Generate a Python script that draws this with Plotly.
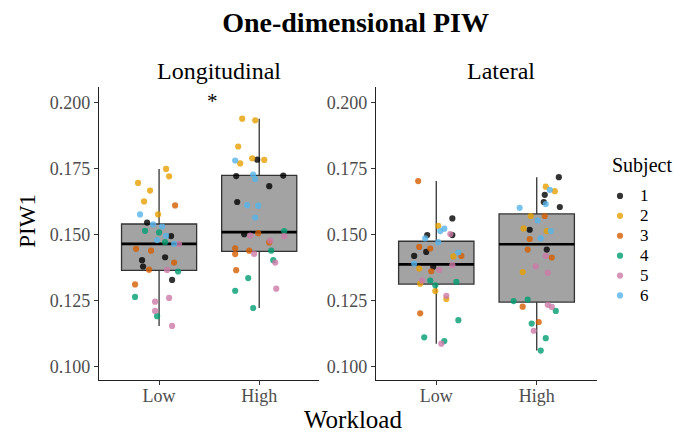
import numpy as np
import plotly.graph_objects as go

# ---------------- data ----------------
subjects = ["1", "2", "3", "4", "5", "6"]
colors = ["#000000", "#E69F00", "#D55E00", "#009E73", "#CC79A7", "#56B4E9"]
conditions = ["Low", "High"]
panels = ["Longitudinal", "Lateral"]

# values per subject (6 trials each), order subject 1..6
long_low = {
    "1": [0.1545, 0.1494, 0.1414, 0.1403, 0.1379, 0.1328],
    "2": [0.1748, 0.1720, 0.1695, 0.1666, 0.1625, 0.1576],
    "3": [0.1610, 0.1446, 0.1439, 0.1394, 0.1367, 0.1311],
    "4": [0.1514, 0.1508, 0.1471, 0.1360, 0.1264, 0.1191],
    "5": [0.1464, 0.1366, 0.1260, 0.1246, 0.1211, 0.1154],
    "6": [0.1576, 0.1538, 0.1530, 0.1495, 0.1479, 0.1465],
}
long_high = {
    "1": [0.1783, 0.1721, 0.1723, 0.1683, 0.1623, 0.1501],
    "2": [0.1938, 0.1932, 0.1833, 0.1788, 0.1782, 0.1769],
    "3": [0.1505, 0.1470, 0.1448, 0.1439, 0.1426, 0.1365],
    "4": [0.1513, 0.1439, 0.1403, 0.1335, 0.1287, 0.1222],
    "5": [0.1496, 0.1494, 0.1477, 0.1427, 0.1394, 0.1295],
    "6": [0.1780, 0.1727, 0.1710, 0.1611, 0.1609, 0.1564],
}
lat_low = {
    "1": [0.1561, 0.1498, 0.1498, 0.1434, 0.1419, 0.1378],
    "2": [0.1533, 0.1417, 0.1371, 0.1314, 0.1286, 0.1256],
    "3": [0.1702, 0.1453, 0.1447, 0.1419, 0.1361, 0.1202],
    "4": [0.1326, 0.1321, 0.1308, 0.1176, 0.1111, 0.1097],
    "5": [0.1502, 0.1384, 0.1366, 0.1326, 0.1268, 0.1087],
    "6": [0.1522, 0.1513, 0.1485, 0.1471, 0.1432, 0.1390],
}
lat_high = {
    "1": [0.1717, 0.1650, 0.1623, 0.1604, 0.1518, 0.1443],
    "2": [0.1681, 0.1664, 0.1570, 0.1523, 0.1513, 0.1358],
    "3": [0.1570, 0.1483, 0.1443, 0.1413, 0.1227, 0.1169],
    "4": [0.1254, 0.1248, 0.1211, 0.1163, 0.1108, 0.1061],
    "5": [0.1419, 0.1380, 0.1355, 0.1234, 0.1226, 0.1136],
    "6": [0.1669, 0.1615, 0.1601, 0.1553, 0.1513, 0.1485],
}

# horizontal jitter offsets (fraction of category spacing)
jit_long_low = {
    "1": [-0.12, 0.12, 0.06, -0.17, -0.16, 0.13],
    "2": [0.07, 0.10, -0.21, -0.09, -0.15, -0.01],
    "3": [0.16, -0.23, -0.08, 0.15, -0.10, -0.24],
    "4": [-0.14, 0.00, 0.06, 0.19, -0.24, -0.02],
    "5": [0.20, 0.08, 0.10, -0.04, -0.04, 0.13],
    "6": [-0.19, -0.06, 0.03, 0.07, -0.02, 0.15],
}
jit_long_high = {
    "1": [-0.02, -0.23, 0.24, 0.10, -0.22, -0.15],
    "2": [-0.17, -0.04, -0.21, -0.07, 0.05, -0.19],
    "3": [-0.01, 0.10, -0.24, -0.10, -0.24, -0.23],
    "4": [0.25, 0.12, 0.14, -0.11, -0.24, -0.06],
    "5": [-0.09, 0.25, 0.11, -0.05, 0.16, 0.17],
    "6": [-0.24, -0.06, -0.04, -0.12, -0.01, -0.04],
}
jit_lat_low = {
    "1": [0.16, -0.09, 0.16, -0.10, -0.22, -0.03],
    "2": [0.02, 0.17, -0.17, -0.16, -0.01, 0.10],
    "3": [-0.18, -0.17, -0.06, 0.25, -0.05, -0.16],
    "4": [-0.06, 0.20, -0.01, 0.22, -0.12, 0.08],
    "5": [0.14, 0.16, 0.03, -0.14, 0.10, 0.05],
    "6": [0.08, 0.04, -0.11, 0.02, 0.22, -0.22],
}
jit_lat_high = {
    "1": [0.22, 0.08, 0.07, 0.23, -0.07, 0.10],
    "2": [0.09, 0.18, -0.06, -0.13, 0.10, -0.14],
    "3": [0.08, -0.07, -0.09, 0.15, -0.14, 0.02],
    "4": [-0.09, -0.23, 0.19, -0.05, 0.09, 0.04],
    "5": [0.09, -0.01, 0.11, 0.11, 0.15, -0.03],
    "6": [0.13, 0.09, -0.17, 0.01, 0.14, 0.04],
}

y_ticks = [0.100, 0.125, 0.150, 0.175, 0.200]

# ---------------- figure ----------------
FONT = "Liberation Serif"
W, H = 675, 434
ML, MR, MT, MB = 99, 78, 87, 54
PW = W - ML - MR
PH = H - MT - MB


def px_x(p):
    return (p - ML) / PW


def px_y(p):
    return (H - MB - p) / PH


groups = [
    (1, 1, long_low, jit_long_low),
    (1, 2, long_high, jit_long_high),
    (2, 1, lat_low, jit_lat_low),
    (2, 2, lat_high, jit_lat_high),
]

fig = go.Figure()
BOXW = 0.75

# boxes
for panel, pos, data, _ in groups:
    xa = "x" if panel == 1 else "x2"
    ya = "y" if panel == 1 else "y2"
    allv = np.array([v for s in subjects for v in data[s]])
    q1, med, q3 = np.percentile(allv, [25, 50, 75])
    iqr = q3 - q1
    lo = allv[allv >= q1 - 1.5 * iqr].min()
    hi = allv[allv <= q3 + 1.5 * iqr].max()
    fig.add_trace(go.Box(
        x=[pos], q1=[q1], median=[med], q3=[q3], lowerfence=[lo], upperfence=[hi],
        width=BOXW, fillcolor="#a3a3a3", line=dict(color="#333333", width=1.3),
        whiskerwidth=0, boxpoints=False, showlegend=False, hoverinfo="skip",
        xaxis=xa, yaxis=ya,
    ))
    fig.add_trace(go.Scatter(
        x=[pos - BOXW / 2, pos + BOXW / 2], y=[med, med], mode="lines",
        line=dict(color="#000000", width=2.6), showlegend=False, hoverinfo="skip",
        xaxis=xa, yaxis=ya,
    ))

# points
LEG_SPAN = "<span style='font-family:Liberation Serif;font-size:17px'>"
for i, s in enumerate(subjects):
    for gi, (panel, pos, data, jit) in enumerate(groups):
        xa = "x" if panel == 1 else "x2"
        ya = "y" if panel == 1 else "y2"
        fig.add_trace(go.Scatter(
            x=[pos + j for j in jit[s]], y=data[s], mode="markers",
            marker=dict(color=colors[i], size=6.2, opacity=0.8, line=dict(width=0)),
            name=LEG_SPAN + s + "</span>",
            legendgroup=s, showlegend=(gi == 0),
            xaxis=xa, yaxis=ya,
        ))

axis_common = dict(
    showgrid=False, zeroline=False, showline=True, linecolor="#222222", linewidth=1.1,
    ticks="outside", ticklen=4, tickcolor="#333333", tickwidth=1.1,
    tickfont=dict(family=FONT, size=18, color="#4d4d4d"),
    automargin=False,
)
x1_dom = [0, px_x(319.3)]
x2_dom = [px_x(376), 1]
fig.update_layout(
    xaxis=dict(domain=x1_dom, range=[0.4, 2.6], tickvals=[1, 2], ticktext=conditions,
               anchor="y", ticklabelstandoff=-5, **axis_common),
    xaxis2=dict(domain=x2_dom, range=[0.4, 2.6], tickvals=[1, 2], ticktext=conditions,
                anchor="y2", ticklabelstandoff=-5, **axis_common),
    yaxis=dict(domain=[0, 1], range=[0.09496, 0.2058], tickvals=y_ticks,
               tickformat=".3f", anchor="x", **axis_common),
    yaxis2=dict(domain=[0, 1], range=[0.09496, 0.2058], tickvals=y_ticks,
                tickformat=".3f", anchor="x2", **axis_common),
)

fig.update_layout(
    width=W, height=H,
    margin=dict(l=ML, r=MR, t=MT, b=MB, autoexpand=False),
    paper_bgcolor="white", plot_bgcolor="white",
    font=dict(family=FONT, color="#000000"),
    title=dict(text="One-dimensional PIW", x=355.6 / W, xanchor="center",
               y=1 - 22 / H, yanchor="middle", yref="container",
               font=dict(family=FONT, size=28, color="#000000", weight="bold")),
    legend=dict(
        font=dict(family=FONT, size=13, color="#000000"),
        x=px_x(600), xanchor="left", y=px_y(181), yanchor="top",
        bgcolor="rgba(0,0,0,0)", borderwidth=0, tracegroupgap=0,
        itemsizing="trace",
    ),
    showlegend=True,
)

annots = [
    dict(text=panels[0], x=px_x(218.7), y=px_y(71), font=dict(size=24)),
    dict(text=panels[1], x=px_x(501), y=px_y(71), font=dict(size=24)),
    dict(text="*", x=px_x(212.7), y=px_y(101.5), font=dict(size=21)),
    dict(text="Workload", x=px_x(353.3), y=px_y(419), font=dict(size=25)),
    dict(text="PIW1", x=px_x(28), y=px_y(220.7), font=dict(size=23), textangle=-90),
    dict(text="Subject", x=px_x(641.7), y=px_y(165), font=dict(size=20)),
]
for a in annots:
    a["font"] = dict(family=FONT, color="#000000", **a["font"])
    fig.add_annotation(xref="paper", yref="paper", showarrow=False,
                       xanchor="center", yanchor="middle", **a)

fig.write_html("out.html", config={"displayModeBar": False},
               post_script="document.body.style.margin='0';")
